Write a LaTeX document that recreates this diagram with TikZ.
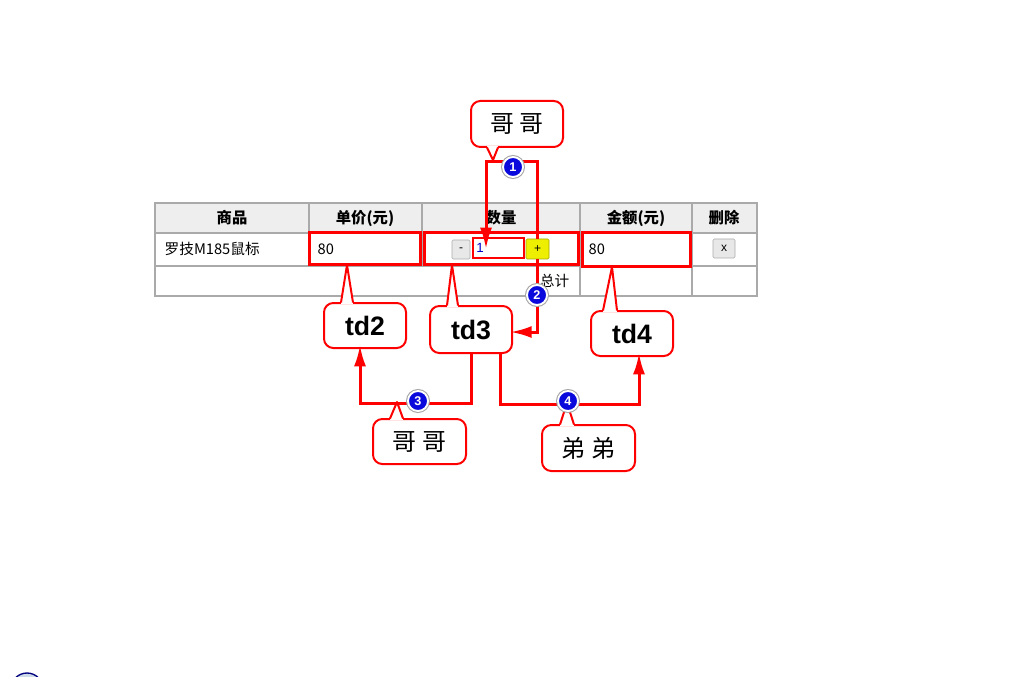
\documentclass[tikz,border=0pt]{standalone}
\usepackage{fontspec}
\setmainfont{Liberation Sans}
\newfontfamily\cjk{Noto Sans CJK SC}
\usetikzlibrary{calc,arrows.meta}

\definecolor{hl}      {RGB}{255,0,0}
\definecolor{grid}    {RGB}{170,170,170}
\definecolor{head}    {RGB}{238,238,238}
\definecolor{btn}     {RGB}{232,232,232}
\definecolor{plusbtn} {RGB}{238,238,0}
\definecolor{ballblue}{RGB}{10,10,220}
\definecolor{icon}    {RGB}{205,218,232}

\begin{document}
\begin{tikzpicture}[x=0.75pt,y=-0.75pt,
    headtext/.style={font=\cjk\bfseries\fontsize{11.5}{13}\selectfont},
    bodytext/.style={font=\cjk\fontsize{11}{13}\selectfont},
    hlbox/.style={draw=hl,line width=2.25pt,inner sep=0pt},
    button/.style={draw=grid,fill=btn,rounded corners=1pt,inner sep=0pt,font=\fontsize{9}{10}\selectfont},
    bubble/.style={draw=hl,line width=1.5pt,fill=white,rounded corners=7pt,inner sep=0pt},
    tail/.style={draw=hl,line width=1.5pt,line join=round},
    flow/.style={draw=hl,line width=2.25pt,arrows={-Latex[length=16pt,width=9pt]}},
    badge/.style={circle,fill=ballblue,draw=white,line width=1.4pt,inner sep=0pt,minimum size=15pt,
        text=white,font=\bfseries\fontsize{9.5}{10}\selectfont,preaction={draw=gray!70,line width=3pt}},
    cntext/.style={font=\cjk\fontsize{18}{20}\selectfont},
    tdtext/.style={font=\bfseries\fontsize{20}{22}\selectfont}]

    \useasboundingbox (0,0) rectangle (1024,677);

    % the table
    \fill[head] (155,203) rectangle (757,233);
    \draw[grid,line width=1.5pt] (155,203) rectangle (757,296);
    \draw[grid,line width=1.5pt] (155,233) -- (757,233) (155,266) -- (757,266)
        (309,203) -- (309,266) (422,203) -- (422,266) (580,203) -- (580,296) (692,203) -- (692,296);

    \node[headtext] (h1) at (232,218) {商品};
    \node[headtext] (h2) at (365,218) {单价(元)};
    \node[headtext] (h3) at (501,218) {数量};
    \node[headtext] (h4) at (636,218) {金额(元)};
    \node[headtext] (h5) at (724,218) {删除};

    \node[bodytext,anchor=west] (name)  at (160,249) {罗技M185鼠标};
    \node[bodytext,anchor=west] (price) at (313,249) {80};
    \node[bodytext,anchor=west] (sum)   at (584,249) {80};
    \node[bodytext,anchor=east] (total) at (574,281) {总计};

    \node[button,minimum width=13.5pt,minimum height=14.25pt] (minus) at (461,249.5) {-};
    \node[button,fill=plusbtn,draw=plusbtn!70!black,minimum width=17.25pt,minimum height=15pt] (plus) at (537.5,249) {+};
    \node[button,minimum width=16.5pt,minimum height=14.25pt] (del) at (724,248.5) {x};
    \node[hlbox,line width=1.5pt,fill=white,minimum width=38.25pt,minimum height=15pt] (qty) at (498.5,248) {};
    \node[anchor=west,inner sep=0pt,text=blue!80!black,font=\fontsize{10}{12}\selectfont] (one) at (476,248) {1};

    % red frames round the cells
    \node[hlbox,minimum width=83.25pt,minimum height=24pt] (td2box) at (364.5,249) {};
    \node[hlbox,minimum width=115.5pt,minimum height=24pt] (td3box) at (501,249) {};
    \node[hlbox,minimum width=81pt,minimum height=25.5pt] (td4box) at (636,250) {};

    % callouts
    \node[bubble,minimum width=69pt,minimum height=34.5pt] (bro1) at (517,124) {};
    \node[bubble,minimum width=61.5pt,minimum height=33.75pt] (cb2) at (365,325.5) {};
    \node[bubble,minimum width=61.5pt,minimum height=35.25pt] (cb3) at (471,329.5) {};
    \node[bubble,minimum width=61.5pt,minimum height=33.75pt] (cb4) at (632,333.5) {};
    \node[bubble,minimum width=69.75pt,minimum height=33.75pt] (bro2) at (419.5,441.5) {};
    \node[bubble,minimum width=69.75pt,minimum height=34.5pt] (sis) at (588.5,448) {};

    % flows between the cells
    \coordinate (top1) at (486,162);
    \coordinate (in1) at (486,249);
    \draw[flow] (plus.north) |- (top1) -- (in1);
    \draw[flow] (plus.south) |- ([xshift=-2pt,yshift=-1.9pt]cb3.east);
    \draw[flow] (cb3.south) -- ++(0,49) -| ([xshift=-3.75pt,yshift=3pt]cb2.south);
    \draw[flow] ([xshift=21.75pt]cb3.south) -- ++(0,50) -| ([xshift=5.25pt,yshift=3pt]cb4.south);

    % pointers of the callouts
    \fill[white] ($(bro1.south)+(-30,-2)$) -- (493,160) -- ($(bro1.south)+(-19,-2)$) -- cycle;
    \draw[tail] ($(bro1.south)+(-30,-0.5)$) -- (493,160) -- ($(bro1.south)+(-19,-0.5)$);
    \fill[white] ($(cb2.north)+(-24,2)$) -- (347,265) -- ($(cb2.north)+(-12,2)$) -- cycle;
    \draw[tail] ($(cb2.north)+(-24,0.5)$) -- (347,265) -- ($(cb2.north)+(-12,0.5)$);
    \fill[white] ($(cb3.north)+(-24,2)$) -- (452,265) -- ($(cb3.north)+(-13,2)$) -- cycle;
    \draw[tail] ($(cb3.north)+(-24,0.5)$) -- (452,265) -- ($(cb3.north)+(-13,0.5)$);
    \fill[white] ($(cb4.north)+(-29,2)$) -- (612,267) -- ($(cb4.north)+(-15,2)$) -- cycle;
    \draw[tail] ($(cb4.north)+(-29,0.5)$) -- (612,267) -- ($(cb4.north)+(-15,0.5)$);
    \fill[white] ($(bro2.north)+(-29.5,2)$) -- (397,402) -- ($(bro2.north)+(-16.5,2)$) -- cycle;
    \draw[tail] ($(bro2.north)+(-29.5,0.5)$) -- (397,402) -- ($(bro2.north)+(-16.5,0.5)$);
    \fill[white] ($(sis.north)+(-28.5,2)$) -- (567,403) -- ($(sis.north)+(-14.5,2)$) -- cycle;
    \draw[tail] ($(sis.north)+(-28.5,0.5)$) -- (567,403) -- ($(sis.north)+(-14.5,0.5)$);

    \node[cntext] at (bro1) {哥\hspace{4pt}哥};
    \node[tdtext] at (cb2) {td2};
    \node[tdtext] at (cb3) {td3};
    \node[tdtext] at (cb4) {td4};
    \node[cntext] at (bro2) {哥\hspace{4pt}哥};
    \node[cntext] at (sis) {弟\hspace{4pt}弟};

    % numbered marks
    \node[badge] (b1) at (513,167) {1};
    \node[badge] (b2) at (537,295) {2};
    \node[badge] (b3) at (418,401) {3};
    \node[badge] (b4) at (568,401) {4};

    % icon cut by the lower edge
    \begin{scope}
        \clip (0,0) rectangle (1024,677);
        \draw[fill=icon,draw=blue!50!black,line width=1pt] (27,689) circle (16);
    \end{scope}

\end{tikzpicture}
\end{document}
